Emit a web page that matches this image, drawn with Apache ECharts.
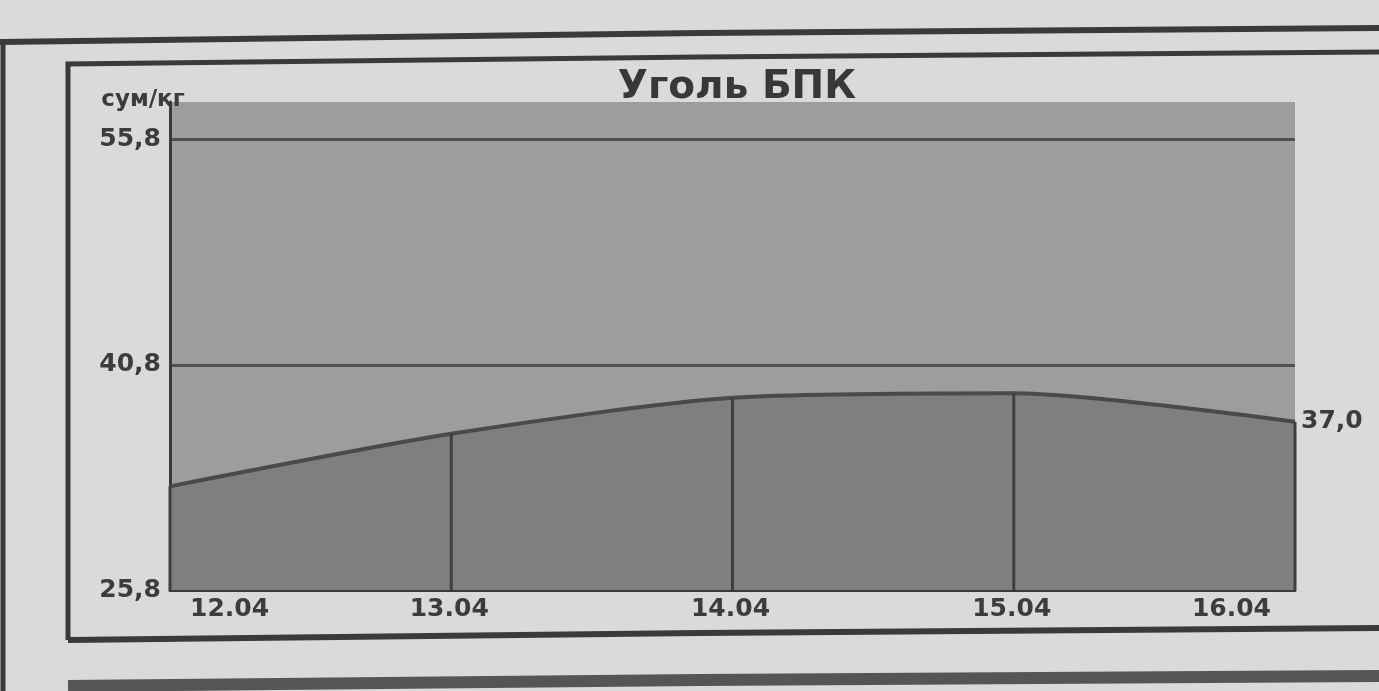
<!DOCTYPE html>
<html>
<head>
<meta charset="utf-8">
<script src="https://cdn.jsdelivr.net/npm/echarts@6/dist/echarts.min.js"></script>
<style>
  html, body { margin: 0; padding: 0; background: #dadada; }
  #chart { width: 1379px; height: 691px; }
</style>
</head>
<body>
<div id="chart"></div>
<script>
var days = ['12.04', '13.04', '14.04', '15.04', '16.04'];
var prices = [32.7, 36.2, 38.6, 38.9, 37.0];
var yMin = 25.8;
var yStep = 15;
var yMax = 58.3;

var chart = document.getElementById('chart');
var myChart = echarts.init(chart);

var ink = '#3a3a3a';
var font = '"DejaVu Sans", Verdana, sans-serif';

function comma(v) {
    return v.toFixed(1).replace('.', ',');
}

option = {
    backgroundColor: '#dadada',
    animation: false,
    title: {
        text: 'Уголь БПК',
        left: 732,
        textAlign: 'center',
        top: 63,
        textStyle: { fontFamily: font, fontWeight: 'bold', fontSize: 39, color: '#383838' }
    },
    grid: {
        left: 170, right: 84, top: 102, bottom: 101,
        show: true,
        backgroundColor: '#9d9d9d',
        borderWidth: 0
    },
    xAxis: {
        type: 'category',
        boundaryGap: false,
        data: days,
        axisLine: { lineStyle: { color: ink, width: 3 } },
        axisTick: { show: false },
        axisLabel: {
            color: '#3c3c3c', fontFamily: font, fontWeight: 'bold', fontSize: 25,
            margin: 7,
            alignMinLabel: 'left', alignMaxLabel: 'right',
            padding: [0, 24, 0, 20]
        }
    },
    yAxis: {
        type: 'value',
        min: yMin,
        max: yMax,
        interval: yStep,
        name: 'сум/кг',
        nameLocation: 'end',
        nameGap: -10,
        nameTextStyle: {
            color: '#3c3c3c', fontFamily: font, fontWeight: 'bold', fontSize: 23,
            align: 'center', padding: [0, 54, 0, 0]
        },
        axisLine: { show: true, lineStyle: { color: ink, width: 3 } },
        axisTick: { show: false },
        axisLabel: {
            showMaxLabel: false,
            color: '#3c3c3c', fontFamily: font, fontWeight: 'bold', fontSize: 25,
            margin: 9,
            formatter: comma
        },
        splitLine: {
            show: true,
            lineStyle: { color: [ink, '#505050', '#505050', 'transparent'], width: 3 }
        }
    },
    series: [
        {
            name: 'Цена',
            type: 'line',
            smooth: 0.25,
            symbol: 'none',
            data: prices,
            lineStyle: { color: '#4a4a4a', width: 4 },
            areaStyle: { color: '#7f7f7f', opacity: 1, origin: 'start' },
            endLabel: {
                show: true,
                distance: 6,
                color: '#3c3c3c', fontFamily: font, fontWeight: 'bold', fontSize: 25,
                formatter: function (p) { return comma(p.value); }
            },
            z: 2
        },
        {
            name: 'Разделители',
            type: 'bar',
            barWidth: 3,
            data: prices,
            itemStyle: { color: '#3f3f3f' },
            z: 3
        }
    ],
    graphic: [
        { type: 'polyline', shape: { points: [[0, 42], [700, 33], [1379, 28]] }, style: { stroke: ink, lineWidth: 6, fill: null } },
        { type: 'polyline', shape: { points: [[3, 42], [3, 691]] }, style: { stroke: ink, lineWidth: 5, fill: null } },
        { type: 'polyline', shape: { points: [[68, 640], [68, 64], [700, 57], [1379, 52]] }, style: { stroke: ink, lineWidth: 5, fill: null } },
        { type: 'polyline', shape: { points: [[68, 640], [700, 633], [1379, 628]] }, style: { stroke: ink, lineWidth: 6, fill: null } },
        { type: 'polyline', shape: { points: [[68, 686], [700, 680], [1379, 676]] }, style: { stroke: '#555', lineWidth: 12, fill: null } }
    ]
};

myChart.setOption(option);
</script>
</body>
</html>
